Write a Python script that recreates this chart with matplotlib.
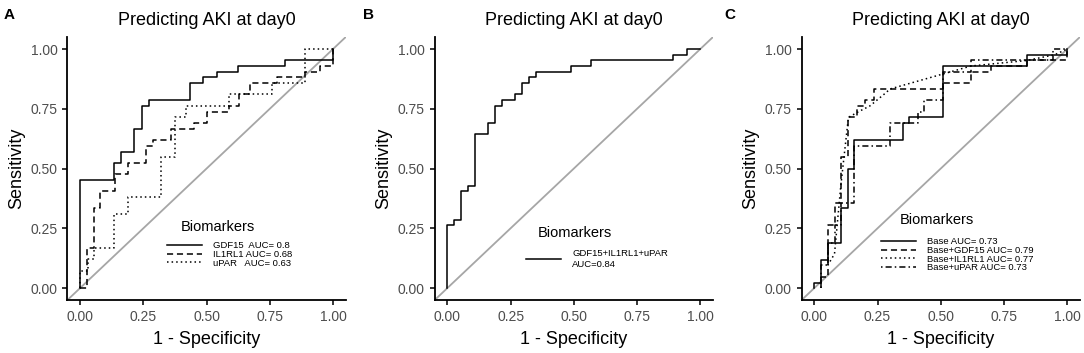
import matplotlib
matplotlib.use("Agg")
import matplotlib.pyplot as plt
import numpy as np

plt.rcParams['font.family'] = ['Liberation Sans', 'DejaVu Sans']

# ROC step curves (1 - specificity, sensitivity)
a_gdf15_x = [0.0, 0.0, 0.136, 0.136, 0.16, 0.16, 0.215, 0.215, 0.244, 0.244, 0.271, 0.271,
             0.435, 0.435, 0.487, 0.487, 0.543, 0.543, 0.625, 0.625, 0.81, 0.81, 1.0, 1.0]
a_gdf15_y = [0.0, 0.452, 0.452, 0.524, 0.524, 0.571, 0.571, 0.667, 0.667, 0.762, 0.762, 0.786,
             0.786, 0.857, 0.857, 0.881, 0.881, 0.905, 0.905, 0.929, 0.929, 0.952, 0.952, 1.0]
a_il1rl1_x = [0.0, 0.027, 0.027, 0.055, 0.055, 0.08, 0.08, 0.14, 0.14, 0.19, 0.19, 0.26, 0.26,
              0.29, 0.29, 0.36, 0.36, 0.45, 0.45, 0.5, 0.5, 0.59, 0.59, 0.63, 0.63, 0.67, 0.67,
              0.78, 0.78, 0.89, 0.89, 0.95, 0.95, 1.0, 1.0]
a_il1rl1_y = [0.0, 0.0, 0.167, 0.167, 0.333, 0.333, 0.405, 0.405, 0.476, 0.476, 0.524, 0.524, 0.595,
              0.595, 0.619, 0.619, 0.667, 0.667, 0.69, 0.69, 0.738, 0.738, 0.762, 0.762, 0.81, 0.81,
              0.857, 0.857, 0.881, 0.881, 0.905, 0.905, 0.929, 0.929, 1.0]
a_upar_x = [0.0, 0.0, 0.03, 0.03, 0.055, 0.055, 0.135, 0.135, 0.19, 0.19, 0.32, 0.32, 0.375,
            0.375, 0.42, 0.42, 0.59, 0.59, 0.625, 0.625, 0.76, 0.76, 0.89, 0.89, 1.0]
a_upar_y = [0.0, 0.07, 0.07, 0.12, 0.12, 0.167, 0.167, 0.31, 0.31, 0.381, 0.381, 0.548, 0.548,
            0.714, 0.714, 0.762, 0.762, 0.81, 0.81, 0.81, 0.81, 0.857, 0.857, 1.0, 1.0]

b_combo_x = [0.0, 0.0, 0.026, 0.026, 0.053, 0.053, 0.08, 0.08, 0.108, 0.108, 0.162, 0.162,
             0.189, 0.189, 0.215, 0.215, 0.269, 0.269, 0.297, 0.297, 0.324, 0.324, 0.351, 0.351,
             0.488, 0.488, 0.567, 0.567, 0.892, 0.892, 0.947, 0.947, 1.0]
b_combo_y = [0.0, 0.262, 0.262, 0.286, 0.286, 0.405, 0.405, 0.429, 0.429, 0.643, 0.643, 0.69,
             0.69, 0.762, 0.762, 0.786, 0.786, 0.81, 0.81, 0.857, 0.857, 0.881, 0.881, 0.905,
             0.905, 0.929, 0.929, 0.952, 0.952, 0.976, 0.976, 1.0, 1.0]

c_base_x = [0.0, 0.0, 0.026, 0.026, 0.053, 0.053, 0.105, 0.105, 0.132, 0.132, 0.158, 0.158,
            0.35, 0.35, 0.375, 0.375, 0.51, 0.51, 0.84, 0.84, 1.0, 1.0]
c_base_y = [0.0, 0.021, 0.021, 0.119, 0.119, 0.19, 0.19, 0.333, 0.333, 0.5, 0.5, 0.619,
            0.619, 0.69, 0.69, 0.714, 0.714, 0.929, 0.929, 0.976, 0.976, 1.0]
c_gdf15_x = [0.026, 0.026, 0.053, 0.053, 0.08, 0.08, 0.105, 0.105, 0.132, 0.132, 0.17, 0.17,
             0.2, 0.2, 0.235, 0.235, 0.51, 0.51, 0.62, 0.62, 0.7, 0.7, 0.84, 0.84, 1.0, 1.0]
c_gdf15_y = [0.0, 0.048, 0.048, 0.262, 0.262, 0.357, 0.357, 0.548, 0.548, 0.714, 0.714, 0.762,
             0.762, 0.786, 0.786, 0.833, 0.833, 0.857, 0.857, 0.905, 0.905, 0.929, 0.929, 0.952, 0.952, 1.0]
c_il1rl1_x = [0.053, 0.053, 0.08, 0.08, 0.105, 0.105, 0.135, 0.135, 0.175, 0.175, 0.22, 0.22,
              0.275, 0.275, 0.3, 0.3, 0.46, 0.46, 0.62, 0.62, 0.84, 0.84, 0.95, 0.95, 1.0]
c_il1rl1_y = [0.095, 0.095, 0.143, 0.143, 0.429, 0.429, 0.714, 0.714, 0.738, 0.738, 0.762, 0.762,
              0.81, 0.81, 0.833, 0.833, 0.881, 0.881, 0.929, 0.929, 0.952, 0.952, 0.976, 0.976, 1.0]
c_upar_x = [0.026, 0.026, 0.053, 0.053, 0.08, 0.08, 0.105, 0.105, 0.158, 0.158, 0.3, 0.3,
            0.41, 0.41, 0.435, 0.435, 0.51, 0.51, 0.62, 0.62, 0.945, 0.945, 1.0]
c_upar_y = [0.0, 0.095, 0.095, 0.19, 0.19, 0.262, 0.262, 0.357, 0.357, 0.595, 0.595, 0.69,
            0.69, 0.738, 0.738, 0.786, 0.786, 0.905, 0.905, 0.952, 0.952, 1.0, 1.0]

titles = ["Predicting AKI at day0"] * 3
letters = ["A", "B", "C"]
ticks = [0.0, 0.25, 0.5, 0.75, 1.0]
tick_labels = ["0.00", "0.25", "0.50", "0.75", "1.00"]

panels = [
    [(a_gdf15_x, a_gdf15_y, "-", "GDF15  AUC= 0.8"),
     (a_il1rl1_x, a_il1rl1_y, (0, (4, 2.5)), "IL1RL1 AUC= 0.68"),
     (a_upar_x, a_upar_y, (0, (1, 2)), "uPAR   AUC= 0.63")],
    [(b_combo_x, b_combo_y, "-", "GDF15+IL1RL1+uPAR\nAUC=0.84")],
    [(c_base_x, c_base_y, "-", "Base AUC= 0.73"),
     (c_gdf15_x, c_gdf15_y, (0, (4, 2.5)), "Base+GDF15 AUC= 0.79"),
     (c_il1rl1_x, c_il1rl1_y, (0, (1, 2)), "Base+IL1RL1 AUC= 0.77"),
     (c_upar_x, c_upar_y, (0, (1, 2, 4, 2)), "Base+uPAR AUC= 0.73")],
]

lefts = [0.0622, 0.401, 0.7395]
letter_x = [0.003, 0.335, 0.668]
legend_pos = [(0.358, 0.173), (0.328, 0.156), (0.285, 0.172)]
legtitle_pos = [(0.408, 0.278), (0.372, 0.255), (0.353, 0.304)]

fig = plt.figure(figsize=(10.84, 3.53), dpi=100)
for i in range(3):
    ax = fig.add_axes([lefts[i], 0.150, 0.2567, 0.745])
    ax.plot([-0.05, 1.05], [-0.05, 1.05], color="#a6a6a6", lw=1.3, zorder=1)
    for xs, ys, ls, lab in panels[i]:
        ax.plot(xs, ys, color="black", lw=1.1, linestyle=ls, label=lab, zorder=2)
    ax.set_xlim(-0.05, 1.05)
    ax.set_ylim(-0.05, 1.05)
    ax.set_xticks(ticks)
    ax.set_xticklabels(tick_labels)
    ax.set_yticks(ticks)
    ax.set_yticklabels(tick_labels)
    ax.tick_params(labelsize=10, labelcolor="#4d4d4d", length=3.5, width=1.1, color="black")
    for s in ["top", "right"]:
        ax.spines[s].set_visible(False)
    for s in ["left", "bottom"]:
        ax.spines[s].set_linewidth(1.3)
    ax.set_xlabel("1 - Specificity", fontsize=13, labelpad=5)
    ax.set_ylabel("Sensitivity", fontsize=13, labelpad=4)
    ax.set_title(titles[i], fontsize=13, pad=9)
    ax.legend(loc="center left", bbox_to_anchor=legend_pos[i], frameon=False,
              fontsize=6.8, handlelength=3.7, handletextpad=1.2, labelspacing=-0.04,
              borderpad=0, borderaxespad=0)
    ax.text(legtitle_pos[i][0], legtitle_pos[i][1], "Biomarkers", transform=ax.transAxes,
            fontsize=10.5, ha="left", va="center")
    fig.text(letter_x[i], 0.945, letters[i], fontsize=11, fontweight="bold")

plt.savefig("out.png", dpi=100)
